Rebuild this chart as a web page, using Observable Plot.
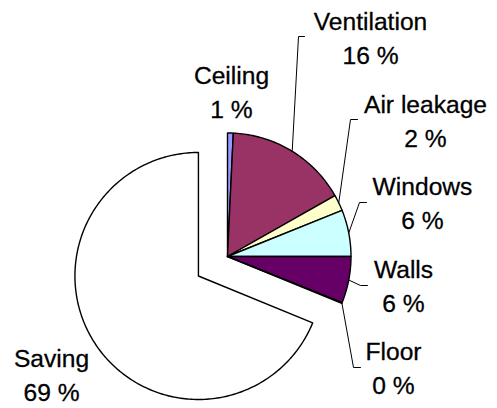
<!DOCTYPE html>
<html><head><meta charset="utf-8">
<script src="https://cdn.jsdelivr.net/npm/d3@7"></script>
<script src="https://cdn.jsdelivr.net/npm/@observablehq/plot@0.6"></script>
<style>body{margin:0;background:#fff}</style>
</head><body><div id="chart"></div>
<script>
// ---- data ----
const categories = ["Ceiling", "Ventilation", "Air leakage", "Windows", "Walls", "Floor", "Saving"];
const values = [0.75, 16.05, 2.1, 6.1, 6.1, 0.1, 68.8];
const sliceColors = ["#9999FF", "#993366", "#FFFFCC", "#CCFFFF", "#660066", "#FF8080", "#FFFFFF"];
const explodedSlices = ["Saving"];

// ---- layout ----
const W = 497, H = 408;
const cx = 227, cy = 256, R = 123.5, explodeDist = 35;
const fontSize = 24.6, lineGap = 34;
// label anchor (centre x, last baseline y) and leader elbow points
const labelLayout = {
  "Ceiling":     {x: 231, y: 117, leader: null},
  "Ventilation": {x: 370, y: 63,  leader: [[304, 36], [298, 36]]},
  "Air leakage": {x: 425, y: 146, leader: [[357, 119], [350, 119]]},
  "Windows":     {x: 422, y: 228, leader: [[366, 202], [359, 202]]},
  "Walls":       {x: 403, y: 311, leader: [[367, 285], [360, 285]]},
  "Floor":       {x: 393, y: 393, leader: [[360, 367], [353, 367]]},
  "Saving":      {x: 51,  y: 400, leader: null}
};

const total = d3.sum(values);
let acc = 0;
const slices = categories.map((name, i) => {
  const a0 = acc / total * 2 * Math.PI;
  acc += values[i];
  const a1 = acc / total * 2 * Math.PI;
  const mid = (a0 + a1) / 2;
  const ex = explodedSlices.includes(name) ? explodeDist : 0;
  const ox = ex * Math.sin(mid), oy = -ex * Math.cos(mid);
  return {name, value: values[i], color: sliceColors[i], a0, a1, mid, ox, oy};
});
const pt = (s, a, r) => [cx + s.ox + r * Math.sin(a), cy + s.oy - r * Math.cos(a)];

const slicePts = [];
for (const s of slices) {
  slicePts.push({name: s.name, color: s.color, p: pt(s, 0, 0)});
  const n = Math.max(2, Math.ceil((s.a1 - s.a0) / (Math.PI / 180)));
  for (let k = 0; k <= n; ++k) {
    const a = s.a0 + (s.a1 - s.a0) * k / n;
    slicePts.push({name: s.name, color: s.color, p: pt(s, a, R)});
  }
}
// draw Saving first, then others
const order = ["Saving", ...categories.filter(c => c !== "Saving")];
slicePts.sort((a, b) => order.indexOf(a.name) - order.indexOf(b.name));

const leaderPts = [];
for (const s of slices) {
  const L = labelLayout[s.name];
  if (!L.leader) continue;
  for (const q of L.leader) leaderPts.push({name: s.name, p: q});
  leaderPts.push({name: s.name, p: pt(s, s.mid, R)});
}
const labels = slices.map(s => ({
  x: labelLayout[s.name].x, y: labelLayout[s.name].y,
  text: `${s.name}\n${Math.round(s.value)} %`
}));

const chart = Plot.plot({
  width: W, height: H, margin: 0,
  x: {domain: [0, W], range: [0, W], axis: null},
  y: {domain: [0, H], range: [0, H], axis: null},
  color: {type: "identity"},
  style: {background: "#fff"},
  marks: [
    Plot.line(slicePts, {x: d => d.p[0], y: d => d.p[1], z: "name", fill: "color",
      stroke: "#000", strokeWidth: 1.4, curve: "linear-closed", strokeLinejoin: "round"}),
    Plot.line(leaderPts, {x: d => d.p[0], y: d => d.p[1], z: "name", stroke: "#000", strokeWidth: 1}),
    Plot.text(labels, {x: "x", y: "y", text: "text", lineAnchor: "bottom",
      lineHeight: lineGap / fontSize, fontSize, fill: "#000", stroke: "#000", strokeWidth: 0.3,
      textAnchor: "middle", fontFamily: "'Liberation Sans', Arial, sans-serif"})
  ]
});
document.getElementById("chart").appendChild(chart);
</script>
</body></html>
